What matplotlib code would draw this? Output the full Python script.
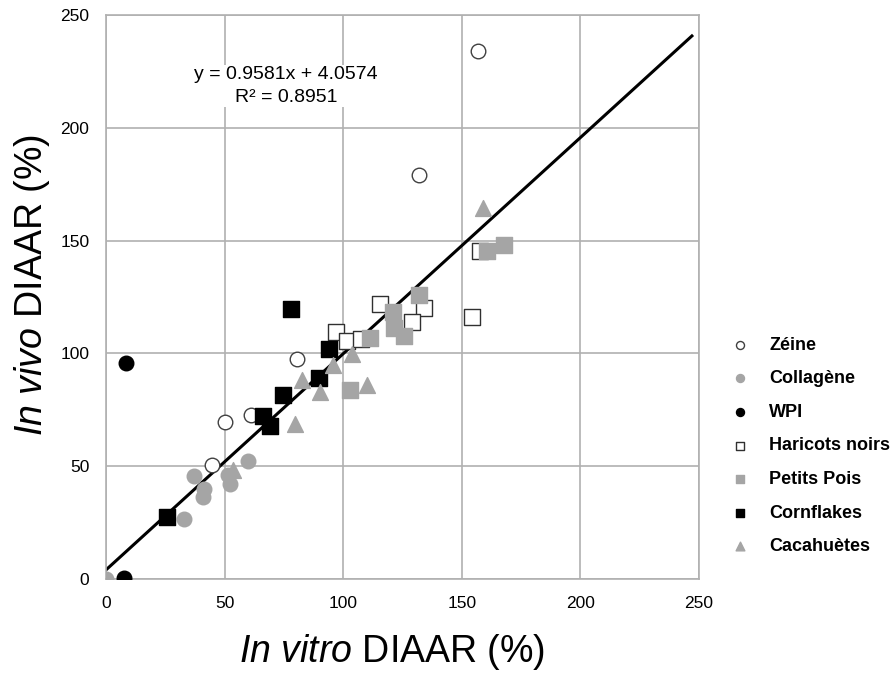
import numpy as np
import matplotlib.pyplot as plt

plt.rcParams['font.family'] = ['Liberation Sans', 'DejaVu Sans']
plt.rcParams['mathtext.fontset'] = 'custom'
plt.rcParams['mathtext.rm'] = 'Liberation Sans'
plt.rcParams['mathtext.it'] = 'Liberation Sans:italic'

# data (in vitro DIAAR, in vivo DIAAR)
zeine_x = [157, 132, 80.4, 50.2, 61.1, 44.8]
zeine_y = [234, 179, 97.3, 69.6, 72.6, 50.4]

collagene_x = [0, 37.2, 41.4, 40.8, 33, 51.3, 52.3, 59.7]
collagene_y = [0, 45.6, 39.8, 36.4, 26.5, 46.3, 42.3, 52.3]

wpi_x = [8.4, 7.6]
wpi_y = [95.9, 0.3]

haricots_x = [115.7, 134.2, 128.9, 97, 101.5, 107.5, 154.4, 157.7]
haricots_y = [121.7, 120.2, 113.9, 109.4, 105.3, 106.5, 116, 145.3]

pois_x = [160.8, 167.8, 132, 121.1, 121.5, 125.8, 111.3, 102.9]
pois_y = [145.3, 148.1, 125.7, 118.3, 111.2, 107.5, 106.9, 83.6]

corn_x = [78, 94, 89.8, 74.8, 66.3, 69.1, 25.6]
corn_y = [119.8, 101.8, 89.2, 81.4, 72.1, 67.7, 27.4]

cacah_x = [53.7, 79.7, 82.5, 90.2, 95.6, 103.8, 109.9, 158.9]
cacah_y = [48.2, 68.9, 88.4, 82.9, 94.7, 99.9, 86.2, 164.5]

slope = 0.9581
intercept = 4.0574

gray = '#a5a5a5'

fig = plt.figure(figsize=(8.94, 6.75), dpi=100)
ax = fig.add_axes([0.1186, 0.1422, 0.6633, 0.8356])

ax.grid(True, color='#b0b0b0', linewidth=1.2)
ax.set_axisbelow(True)

# trend line
lx = np.array([0, 247])
ax.plot(lx, slope * lx + intercept, color='black', linewidth=2.2, zorder=2)

ax.scatter(zeine_x, zeine_y, s=110, marker='o', facecolor='white', edgecolor='#404040', linewidth=1, label='Zéine', zorder=3)
ax.scatter(collagene_x, collagene_y, s=110, marker='o', color=gray, label='Collagène', zorder=3)
ax.scatter(wpi_x, wpi_y, s=110, marker='o', color='black', label='WPI', zorder=3)
ax.scatter(haricots_x, haricots_y, s=130, marker='s', facecolor='white', edgecolor='#303030', linewidth=1, label='Haricots noirs', zorder=3)
ax.scatter(pois_x, pois_y, s=130, marker='s', color=gray, label='Petits Pois', zorder=3)
ax.scatter(corn_x, corn_y, s=130, marker='s', color='black', label='Cornflakes', zorder=3)
ax.scatter(cacah_x, cacah_y, s=130, marker='^', color=gray, label='Cacahuètes', zorder=3)

ax.set_xlim(0, 250)
ax.set_ylim(0, 250)
ax.set_xticks(range(0, 251, 50))
ax.set_yticks(range(0, 251, 50))
ax.tick_params(length=0, labelsize=12.5, pad=12)
for s in ax.spines.values():
    s.set_color('#b0b0b0')
    s.set_linewidth(1.2)

# axis titles
fig.text(0.438, 0.034, '$\\mathit{In\\ vitro}$ DIAAR (%)', fontsize=27, ha='center', va='center')
fig.text(0.036, 0.578, '$\\mathit{In\\ vivo}$ DIAAR (%)', fontsize=27, ha='center', va='center', rotation=90)

ax.text(76, 218.6, 'y = 0.9581x + 4.0574\nR² = 0.8951', ha='center', va='center',
        fontsize=14, linespacing=1.45,
        bbox=dict(facecolor='white', edgecolor='none', pad=1), zorder=4)

ax.legend(loc='center left', bbox_to_anchor=(1.027, 0.236), frameon=False,
          markerscale=0.55, prop={'weight': 'bold', 'size': 13},
          labelspacing=0.92, handletextpad=0.6, borderaxespad=0)

fig.savefig('out.png', dpi=100)
